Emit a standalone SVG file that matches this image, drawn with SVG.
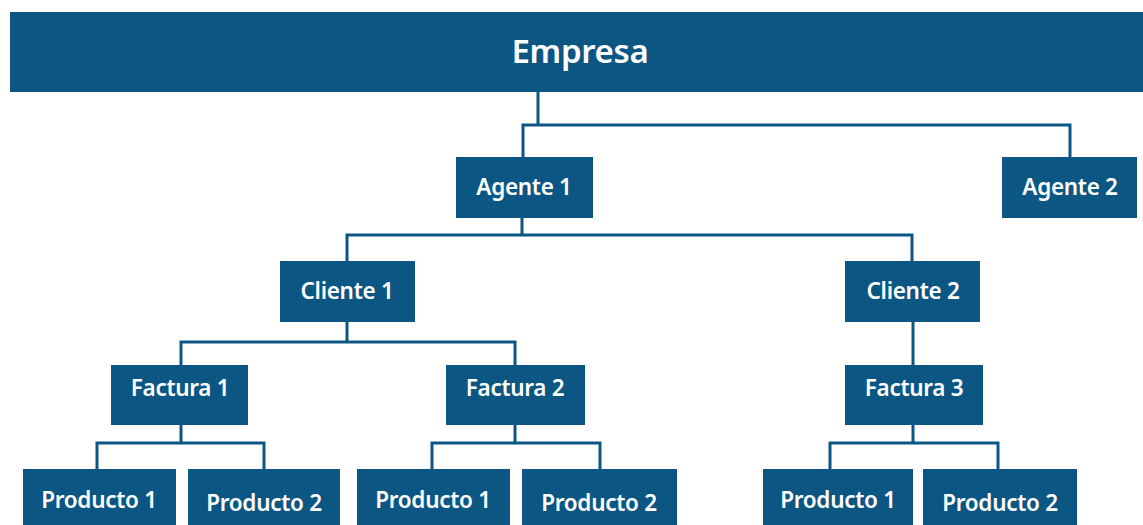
<svg xmlns="http://www.w3.org/2000/svg" width="1143" height="525" viewBox="0 0 1143 525">
<style>
.box{fill:#0c5683}
.t{fill:#ffffff;font-family:"Noto Sans","Open Sans",sans-serif;font-weight:600;font-size:22.5px;text-anchor:middle;letter-spacing:-0.3px}
.big{font-size:33px}
.c{fill:none;stroke:#0c5683;stroke-width:3}
</style>
<rect width="1143" height="525" fill="#ffffff"/>
<g id="connectors">
<path class="c" d="M538 92V125"/>
<path class="c" d="M523 158V125H1070V158"/>
<path class="c" d="M522 218V235"/>
<path class="c" d="M347 261V235H912V261"/>
<path class="c" d="M347 322V342"/>
<path class="c" d="M181 365V342H515V365"/>
<path class="c" d="M913 322V365"/>
<path class="c" d="M181 425V443"/>
<path class="c" d="M97 469V443H264V469"/>
<path class="c" d="M515 425V443"/>
<path class="c" d="M432 469V443H600V469"/>
<path class="c" d="M913 425V443"/>
<path class="c" d="M830 469V443H998V469"/>
</g>
<g id="empresa"><rect class="box" x="10" y="12" width="1133" height="80"/><text class="t big" x="580" y="63">Empresa</text></g>
<g id="agente1"><rect class="box" x="456" y="157" width="137" height="61"/><text class="t" x="524" y="195">Agente 1</text></g>
<g id="agente2"><rect class="box" x="1002" y="157" width="135" height="61"/><text class="t" x="1070" y="195">Agente 2</text></g>
<g id="cliente1"><rect class="box" x="280" y="261" width="135" height="61"/><text class="t" x="347" y="299">Cliente 1</text></g>
<g id="cliente2"><rect class="box" x="845" y="261" width="135" height="61"/><text class="t" x="913" y="299">Cliente 2</text></g>
<g id="factura1"><rect class="box" x="111" y="365" width="137" height="60"/><text class="t" x="180" y="396">Factura 1</text></g>
<g id="factura2"><rect class="box" x="446" y="365" width="139" height="60"/><text class="t" x="515" y="396">Factura 2</text></g>
<g id="factura3"><rect class="box" x="845" y="365" width="138" height="60"/><text class="t" x="914" y="396">Factura 3</text></g>
<g id="producto1a"><rect class="box" x="23" y="469" width="153" height="56"/><text class="t" x="99" y="508">Producto 1</text></g>
<g id="producto2a"><rect class="box" x="188" y="469" width="152" height="56"/><text class="t" x="264" y="511">Producto 2</text></g>
<g id="producto1b"><rect class="box" x="357" y="469" width="153" height="56"/><text class="t" x="433" y="508">Producto 1</text></g>
<g id="producto2b"><rect class="box" x="522" y="469" width="155" height="56"/><text class="t" x="599" y="511">Producto 2</text></g>
<g id="producto1c"><rect class="box" x="763" y="469" width="150" height="56"/><text class="t" x="838" y="508">Producto 1</text></g>
<g id="producto2c"><rect class="box" x="923" y="469" width="154" height="56"/><text class="t" x="1000" y="511">Producto 2</text></g>
</svg>
